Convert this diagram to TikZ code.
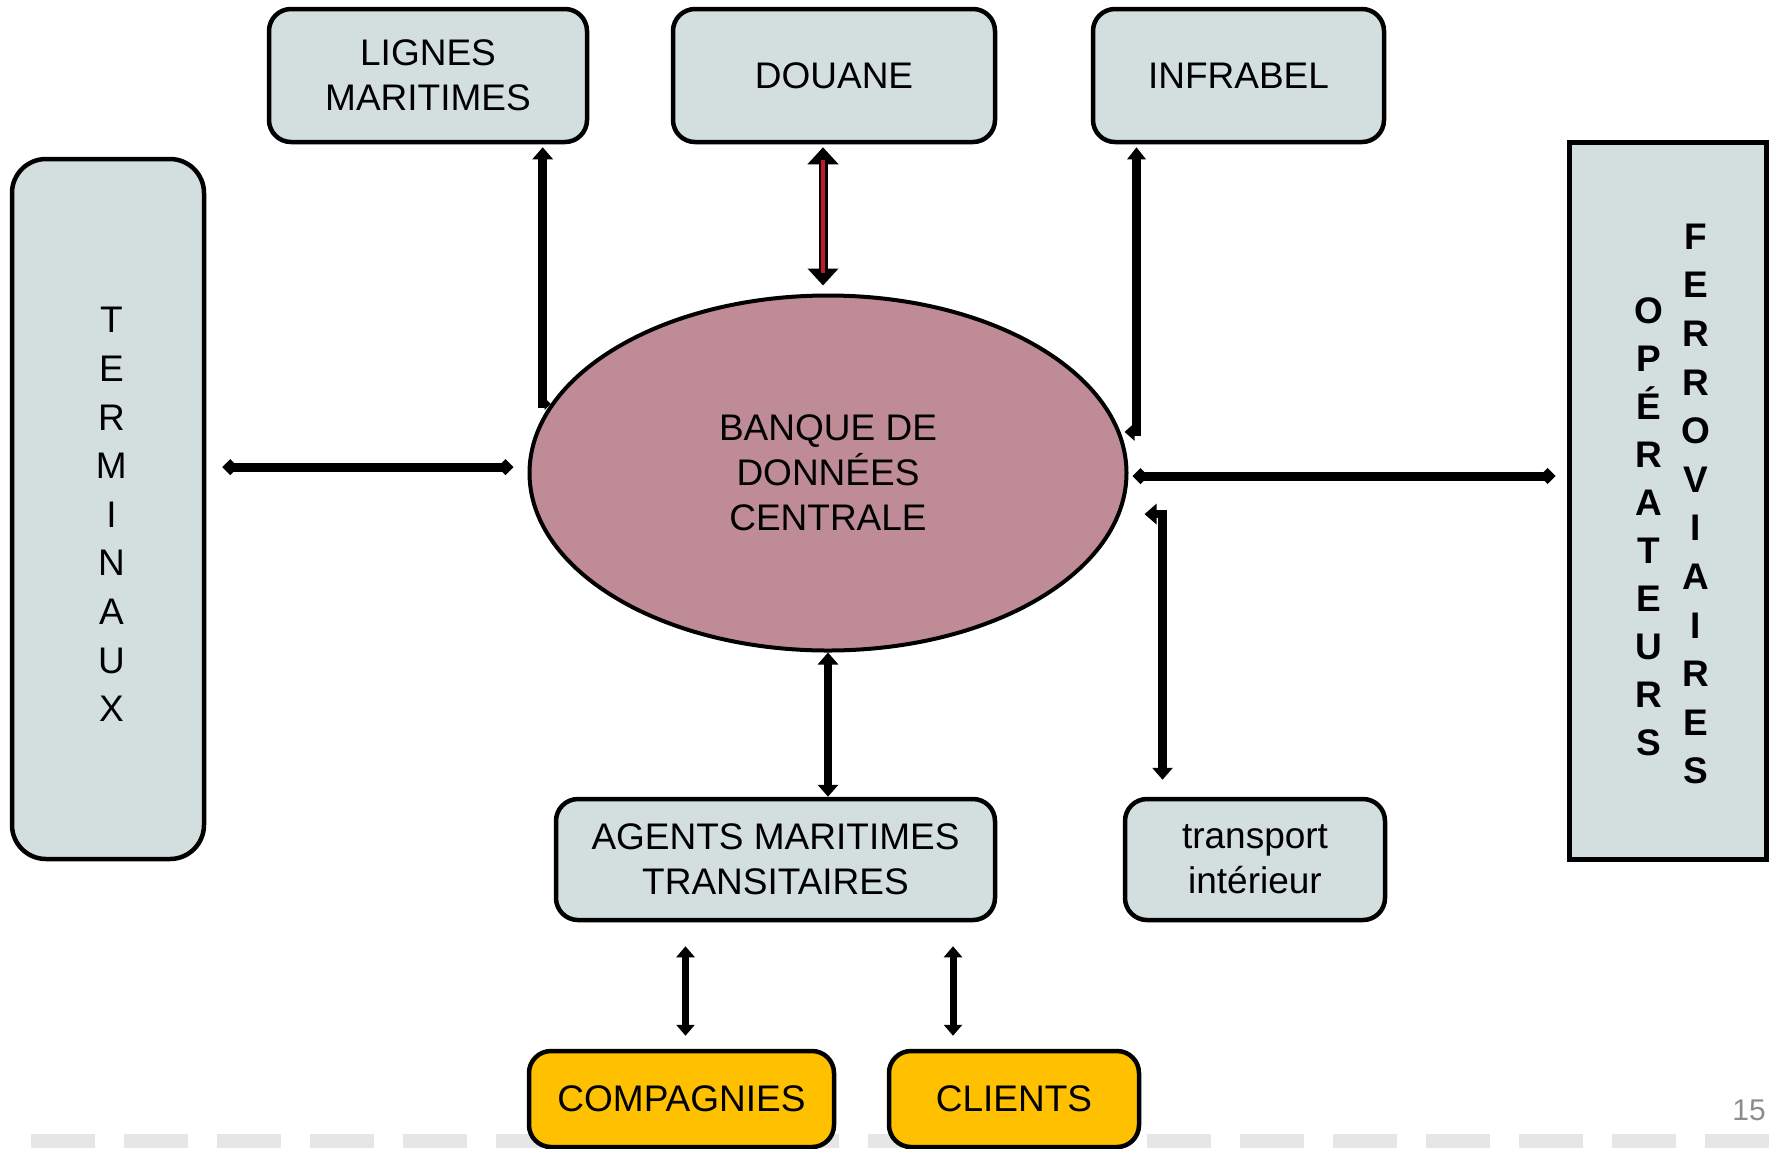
\documentclass[tikz,border=0pt]{standalone}
\usepackage{fontspec}
\setmainfont{Liberation Sans}
\usetikzlibrary{positioning, calc, arrows.meta, shapes.geometric}
\definecolor{boxgrey}{HTML}{D3DFDF}
\definecolor{bankrose}{HTML}{BE8B96}
\definecolor{boxyellow}{HTML}{FFC000}
\definecolor{footgrey}{HTML}{E6E6E6}
\definecolor{douanered}{HTML}{C0182D}
\definecolor{numgrey}{HTML}{8C8C8C}
\tikzset{box/.style={draw, line width=2.25pt, rounded corners=11pt, fill=boxgrey, align=center, inner sep=0pt, font=\fontsize{18.5}{22.6}\selectfont}}
\tikzset{yellowbox/.style={box, fill=boxyellow, minimum height=48pt}}
\tikzset{link/.style={line width=4.3pt, >={Triangle[length=6pt, width=10pt]}, <->}}
\tikzset{wide link/.style={line width=4.5pt, {Diamond[length=8pt, width=8pt]}-{Diamond[length=8pt, width=8pt]}}}
\tikzset{letters/.style={align=center, inner sep=0pt}}

\begin{document}
\begin{tikzpicture}[x=0.5pt, y=-0.5pt]
  \useasboundingbox (0,0) rectangle (1773,1148);

  % footer band
  \foreach \i in {0,...,18}
    \fill[footgrey] (31+\i*93,1134) rectangle ++(64,14);

  \node[box, minimum width=159pt, minimum height=66.5pt] (lignes) at (428,75.5) {LIGNES\\MARITIMES};
  \node[box, minimum width=161pt, minimum height=66.5pt] (douane) at (834,75.5) {DOUANE};
  \node[box, minimum width=145.5pt, minimum height=66.5pt] (infrabel) at (1238.5,75.5) {INFRABEL};

  \node[box, rounded corners=17pt, minimum width=96pt, minimum height=350pt] (terminaux) at (108,509) {};
  \node[letters, font=\fontsize{18.5}{24.3}\selectfont] (terminauxtext)
    at ([xshift=1.7pt, yshift=-2.8pt]terminaux.center) {T\\E\\R\\M\\I\\N\\A\\U\\X};

  \node[box, sharp corners, line width=2.5pt, minimum width=98.5pt, minimum height=358.5pt] (ferro) at (1667.5,500.5) {};
  \node[letters, font=\fontsize{18.5}{24}\selectfont\bfseries] (operateurs)
    at ([xshift=-9.25pt, yshift=-13.25pt]ferro.center) {O\\P\\É\\R\\A\\T\\E\\U\\R\\S};
  \node[letters, font=\fontsize{18.5}{24.3}\selectfont\bfseries] (ferroviaires)
    at ([xshift=14.25pt, yshift=-1.75pt]ferro.center) {F\\E\\R\\R\\O\\V\\I\\A\\I\\R\\E\\S};

  \node[ellipse, draw, line width=2pt, fill=bankrose, minimum width=298.5pt, minimum height=177.5pt,
        inner sep=0pt, align=center, font=\fontsize{18.5}{22.5}\selectfont] (bank) at (828,473) {BANQUE DE\\DONNÉES\\CENTRALE};

  \node[box, minimum width=219.5pt, minimum height=60.5pt] (agents) at (775.5,859.5) {AGENTS MARITIMES\\TRANSITAIRES};
  \node[box, minimum width=130pt, minimum height=60.5pt] (transport) at (1255,859.5) {transport\\intérieur};

  \node[yellowbox, minimum width=152.5pt] (compagnies) at (681.5,1099) {COMPAGNIES};
  \node[yellowbox, minimum width=125pt] (clients) at (1014,1099) {CLIENTS};

  \node[text=numgrey, font=\fontsize{15}{18}\selectfont] (pagenum) at (1749,1110) {15};

  % connectors
  \draw[wide link, shorten <=8pt, shorten >=7pt] ([yshift=3pt]bank.west -| terminaux.east) -- ([yshift=3pt]bank.west);
  \draw[wide link, shorten <=2pt, shorten >=5.5pt] ([yshift=-1.5pt]bank.east) -- ([yshift=-1.5pt]bank.east -| ferro.west);

  \draw[link, {Triangle[length=3pt, width=6pt]}-{Triangle[length=6pt, width=10pt]}, shorten >=1.5pt]
    (bank.166) -- ([xshift=-4pt]bank.166) -- ([xshift=-4pt]bank.166 |- lignes.south);
  \draw[link, {Triangle[length=5pt, width=8.5pt]}-{Triangle[length=6pt, width=9pt]}, shorten <=2pt, shorten >=1.5pt]
    (bank.8) -- ([xshift=8pt]bank.8) -- ([xshift=8pt]bank.8 |- infrabel.south);

  \draw[line width=4.5pt, >={Triangle[length=8.5pt, width=15pt]}, <->, shorten <=1.5pt, shorten >=4pt]
    ([xshift=-5.5pt]douane.south) -- ([xshift=-5.5pt]douane.south |- bank.north);
  \draw[douanered, line width=2pt, shorten <=8pt, shorten >=10.5pt]
    ([xshift=-5.5pt]douane.south) -- ([xshift=-5.5pt]douane.south |- bank.north);

  \draw[link] (bank.south) -- (bank.south |- agents.north);
  \draw[link, shorten >=8.5pt]
    ([xshift=12pt]bank.-8) -- ([xshift=21pt]bank.-8) -- ([xshift=21pt]bank.-8 |- transport.north);

  \draw[link, line width=3.5pt, >={Triangle[length=5.5pt, width=9pt]}, shorten <=6.5pt, shorten >=12pt]
    ([xshift=2pt]compagnies.north) -- ([xshift=2pt]compagnies.north |- agents.south);
  \draw[link, line width=3.5pt, >={Triangle[length=5.5pt, width=9pt]}, shorten <=6.5pt, shorten >=12pt]
    ([xshift=-30.5pt]clients.north) -- ([xshift=-30.5pt]clients.north |- agents.south);
\end{tikzpicture}
\end{document}
